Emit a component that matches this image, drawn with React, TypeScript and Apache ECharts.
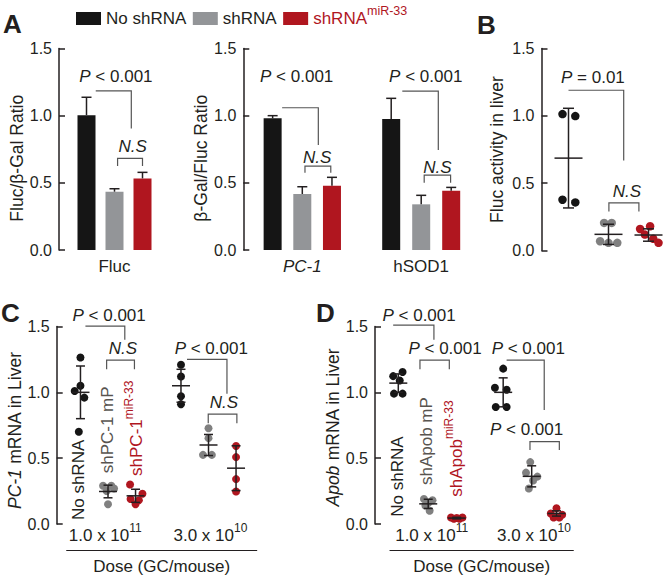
import React, { useEffect, useRef } from 'react';
import * as echarts from 'echarts';

const FONT = "'Liberation Sans', Arial, Helvetica, sans-serif";
const INK = '#231f20';
const BLACK = '#151515';
const GREY_BAR = '#939598';
const RED = '#b0161f';
const GREY_DOT = '#808080';
const GREY_TEXT = '#58544f';
const LINE = '#555555';

// ---------- Panel A (bars, mean + upper error) ----------
const barTargets = ['Fluc', 'PC-1', 'hSOD1'];
const legendNames = ['No shRNA', 'shRNA', 'shRNAmiR-33'];
const barNoShRNA = [1.004, 0.98, 0.975];
const barNoShRNAErr = [0.133, 0.02, 0.154];
const barShRNA = [0.434, 0.417, 0.34];
const barShRNAErr = [0.022, 0.054, 0.067];
const barShRNAmiR = [0.533, 0.478, 0.441];
const barShRNAmiRErr = [0.045, 0.063, 0.025];

// brackets: [xStart, xEnd, yTop, yStartEnd, yEndEnd, textX, textY, text]
const flucBrackets = [
  [0.33, 1.6, 1.185, 1.185, 0.905, 1.05, 1.29, 'P < 0.001'],
  [1.11, 2.0, 0.682, 0.625, 0.625, 1.65, 0.774, 'N.S'],
];
const pc1Brackets = [
  [0.32, 1.54, 1.059, 1.059, 0.781, 0.81, 1.29, 'P < 0.001'],
  [1.09, 1.96, 0.625, 0.575, 0.575, 1.5, 0.69, 'N.S'],
];
const sodBrackets = [
  [0.37, 1.57, 1.183, 1.183, 0.744, 1.15, 1.29, 'P < 0.001'],
  [1.1, 1.98, 0.558, 0.5, 0.5, 1.54, 0.615, 'N.S'],
];

// ---------- Panel B (Fluc activity in liver) ----------
const bPositions = [1, 2, 3];
const bNoShRNA = [1.013, 0.998, 0.377, 0.357];
const bNoShRNAJitter = [-0.15, 0.17, -0.15, 0.17];
const bShRNA = [0.205, 0.205, 0.069, 0.057, 0.057];
const bShRNAJitter = [-0.11, 0.08, -0.21, 0.0, 0.22];
const bShRNAmiR = [0.18, 0.16, 0.118, 0.087, 0.057];
const bShRNAmiRJitter = [0.04, -0.21, -0.09, 0.12, 0.25];
const bMean = [0.686, 0.12, 0.115];
const bSD = [0.37, 0.075, 0.046];
const bBrackets = [
  [1.0, 2.38, 1.19, 1.19, 0.668, 1.61, 1.287, 'P = 0.01'],
  [2.01, 2.76, 0.353, 0.29, 0.29, 2.46, 0.439, 'N.S'],
];

// ---------- Panel C (PC-1 mRNA) ----------
const cPositions = [1, 2, 3, 4.65, 5.65, 6.65];
const cValues = [
  [1.265, 1.05, 1.01, 0.96, 0.7],
  [0.29, 0.29, 0.27, 0.25, 0.15],
  [0.3, 0.23, 0.19, 0.18, 0.15],
  [1.21, 1.12, 0.97, 0.91],
  [0.727, 0.652, 0.525, 0.525],
  [0.593, 0.508, 0.341, 0.247],
];
const cJitter = [
  [0, 0, -0.21, 0.14, -0.06],
  [-0.18, 0.12, 0.22, -0.05, 0],
  [-0.2, 0.25, -0.18, 0.12, 0],
  [0, 0, 0, 0],
  [0, 0, -0.2, 0.12],
  [0, 0, 0, 0],
];
const cMean = [1.0, 0.247, 0.214, 1.05, 0.6, 0.424];
const cSD = [0.2, 0.048, 0.05, 0.125, 0.08, 0.17];
const cGroupNames = ['No shRNA', 'shPC-1 mP', 'shPC-1'];
const cGroupSups = ['', '', 'miR-33'];
const cLabelX = [0.94, 1.98, 3.02];
const cLabelY = [0.03, 0.385, 0.365];
const cBrackets = [
  [1.18, 2.61, 1.503, 1.503, 1.4, 2.04, 1.587, 'P < 0.001'],
  [1.95, 2.96, 1.245, 1.175, 1.175, 2.54, 1.334, 'N.S'],
  [4.87, 6.32, 1.25, 1.25, 0.99, 5.75, 1.334, 'P < 0.001'],
  [5.64, 6.68, 0.835, 0.765, 0.765, 6.21, 0.921, 'N.S'],
];

// ---------- Panel D (Apob mRNA) ----------
const dPositions = [1, 2.05, 3.05, 4.68, 5.68, 6.55];
const dValues = [
  [1.154, 1.123, 1.09, 0.99, 0.99],
  [0.19, 0.18, 0.16, 0.14, 0.1],
  [0.05, 0.05, 0.045, 0.04, 0.04],
  [1.18, 1.035, 1.02, 0.888, 0.888],
  [0.47, 0.39, 0.36, 0.33, 0.27],
  [0.12, 0.08, 0.07, 0.05, 0.05],
];
const dJitter = [
  [0.15, -0.18, 0.05, -0.15, 0.15],
  [-0.15, 0.15, 0.0, -0.1, 0.05],
  [-0.2, 0.2, 0, -0.1, 0.1],
  [0, -0.29, 0.12, -0.26, 0.12],
  [-0.05, -0.2, 0.2, 0.05, -0.1],
  [0, -0.2, 0.2, -0.1, 0.1],
];
const dMean = [1.07, 0.153, 0.045, 1.0, 0.362, 0.08];
const dSD = [0.07, 0.035, 0.006, 0.11, 0.08, 0.02];
const dGroupNames = ['No shRNA', 'shApob mP', 'shApob'];
const dGroupSups = ['', '', 'miR-33'];
const dLabelX = [0.965, 2.0, 3.05];
const dLabelY = [0.055, 0.296, 0.207];
const dBrackets = [
  [0.82, 2.25, 1.51, 1.51, 1.4, 1.73, 1.58, 'P < 0.001'],
  [1.76, 2.79, 1.245, 1.175, 1.175, 2.64, 1.33, 'P < 0.001'],
  [4.8, 6.12, 1.245, 1.245, 0.866, 5.56, 1.33, 'P < 0.001'],
  [5.62, 6.65, 0.625, 0.562, 0.562, 5.5, 0.714, 'P < 0.001'],
];

const doseTicks = ['1.0 x 10{sup|11}', '3.0 x 10{sup|10}'];
const cDosePositions = [1.9, 5.72];
const dDosePositions = [2.17, 5.76];
const groupColors = [BLACK, GREY_DOT, RED, BLACK, GREY_DOT, RED];
const labelColors = [INK, GREY_TEXT, RED];

const ital = { fontStyle: 'italic', fontSize: 17, fontFamily: FONT, color: INK };

function bracketSeries(xi: number, yi: number, list: any[]) {
  return {
    type: 'custom',
    xAxisIndex: xi,
    yAxisIndex: yi,
    z: 5,
    silent: true,
    data: list.map((b: any) => [0, b[2]]),
    renderItem: (params: any, api: any) => {
      const b = list[params.dataIndex];
      const x0 = api.coord([0, 0])[0];
      const unit = api.size([1, 0])[0];
      const X = (v: number) => x0 + v * unit;
      const Y = (v: number) => api.coord([0, v])[1];
      const label: string = b[7];
      const text = label === 'N.S' ? '{i|N.S}' : label.replace(/^P/, '{i|P}');
      return {
        type: 'group',
        children: [
          {
            type: 'polyline',
            shape: {
              points: [
                [X(b[0]), Y(b[3])],
                [X(b[0]), Y(b[2])],
                [X(b[1]), Y(b[2])],
                [X(b[1]), Y(b[4])],
              ],
            },
            style: { stroke: LINE, lineWidth: 1.2, fill: 'none' },
          },
          {
            type: 'text',
            x: X(b[5]),
            y: Y(b[6]),
            style: {
              text,
              fontSize: 17,
              fontFamily: FONT,
              fill: INK,
              align: 'center',
              verticalAlign: 'middle',
              rich: { i: { fontStyle: 'italic', fontSize: 17, fontFamily: FONT, fill: INK } },
            },
          },
        ],
      };
    },
  };
}

function meanSdSeries(xi: number, yi: number, pos: number[], mean: number[], sd: number[], hwMean: number, hwCap: number) {
  return {
    type: 'custom',
    xAxisIndex: xi,
    yAxisIndex: yi,
    z: 4,
    silent: true,
    data: pos.map((p, i) => [p, mean[i], mean[i] - sd[i], mean[i] + sd[i]]),
    renderItem: (params: any, api: any) => {
      const pm = api.coord([api.value(0), api.value(1)]);
      const pl = api.coord([api.value(0), api.value(2)]);
      const ph = api.coord([api.value(0), api.value(3)]);
      const st = { stroke: INK, lineWidth: 1.5 };
      return {
        type: 'group',
        children: [
          { type: 'line', shape: { x1: pm[0] - hwMean, y1: pm[1], x2: pm[0] + hwMean, y2: pm[1] }, style: st },
          { type: 'line', shape: { x1: pl[0], y1: pl[1], x2: ph[0], y2: ph[1] }, style: st },
          { type: 'line', shape: { x1: pl[0] - hwCap, y1: pl[1], x2: pl[0] + hwCap, y2: pl[1] }, style: st },
          { type: 'line', shape: { x1: ph[0] - hwCap, y1: ph[1], x2: ph[0] + hwCap, y2: ph[1] }, style: st },
        ],
      };
    },
  };
}

function groupLabelSeries(xi: number, yi: number, xs: number[], ys: number[], names: string[], sups: string[]) {
  return {
    type: 'custom',
    xAxisIndex: xi,
    yAxisIndex: yi,
    z: 4,
    silent: true,
    data: xs.map((x, i) => [x, ys[i]]),
    renderItem: (params: any, api: any) => {
      const i = params.dataIndex;
      const p = api.coord([api.value(0), api.value(1)]);
      const color = labelColors[i];
      const text = sups[i] ? `{m|${names[i]}}{s|${sups[i]}}` : `{m|${names[i]}}`;
      return {
        type: 'text',
        x: p[0],
        y: p[1],
        rotation: Math.PI / 2,
        style: {
          text,
          fill: color,
          fontSize: 17,
          fontFamily: FONT,
          align: 'left',
          verticalAlign: 'middle',
          rich: {
            m: { fontSize: 17, fontFamily: FONT, fill: color },
            s: { fontSize: 12, fontFamily: FONT, fill: color, padding: [0, 0, 15, 0] },
          },
        },
      };
    },
  };
}

function yAxisDef(gridIndex: number, offset: number, name: string, nameGap: number, show = true, namePad: number[] = [0, 0, 0, 0]) {
  return {
    gridIndex,
    type: 'value',
    min: 0,
    max: 1.5,
    interval: 0.5,
    offset,
    show,
    axisLine: { show: true, lineStyle: { color: INK, width: 1.5 } },
    axisTick: { show: true, inside: true, length: 6, lineStyle: { color: INK, width: 1.5 } },
    axisLabel: { fontSize: 16, color: INK, fontFamily: FONT, margin: 7, formatter: (v: number) => v.toFixed(1) },
    splitLine: { show: false },
    name,
    nameLocation: 'middle',
    nameGap,
    nameTextStyle: { fontSize: 17.5, color: INK, fontFamily: FONT, padding: namePad, rich: { i: { ...ital, fontSize: 17.5 } } },
  };
}

function catXAxis(gridIndex: number, name: string, italic: boolean) {
  return {
    gridIndex,
    type: 'category',
    data: legendNames,
    axisLine: { show: false },
    axisTick: { show: false },
    axisLabel: { show: false },
    name,
    nameLocation: 'middle',
    nameGap: 8,
    nameTextStyle: { fontSize: 17, color: INK, fontFamily: FONT, fontStyle: italic ? 'italic' : 'normal' },
  };
}

function hiddenX(gridIndex: number, min: number, max: number) {
  return { gridIndex, type: 'value', min, max, show: false, splitLine: { show: false } };
}

function doseAxis(gridIndex: number, min: number, max: number, ticks: number[]) {
  return {
    gridIndex,
    type: 'value',
    min,
    max,
    position: 'bottom',
    offset: 26,
    axisLine: { show: true, lineStyle: { color: INK, width: 1.2 } },
    axisTick: { show: false },
    splitLine: { show: false },
    axisLabel: {
      inside: true,
      margin: 2,
      customValues: ticks,
      formatter: (v: number) => {
        const k = ticks.findIndex((t) => Math.abs(t - v) < 1e-6);
        return k >= 0 ? doseTicks[k] : '';
      },
      fontSize: 17,
      color: INK,
      fontFamily: FONT,
      rich: { sup: { fontSize: 12, fontFamily: FONT, color: INK, padding: [0, 0, 14, 0] } },
    },
    name: 'Dose (GC/mouse)',
    nameLocation: 'middle',
    nameGap: 8,
    nameTextStyle: { fontSize: 17, color: INK, fontFamily: FONT },
  };
}

function buildOption() {
  const barSets = [barNoShRNA, barShRNA, barShRNAmiR];
  const errSets = [barNoShRNAErr, barShRNAErr, barShRNAmiRErr];
  const barColors = [BLACK, GREY_BAR, RED];
  const aBrackets = [flucBrackets, pc1Brackets, sodBrackets];
  const series: any[] = [];

  for (let g = 0; g < 3; g++) {
    for (let s = 0; s < 3; s++) {
      series.push({
        type: 'bar',
        name: legendNames[s],
        xAxisIndex: g,
        yAxisIndex: g,
        barWidth: 18,
        barGap: '-100%',
        itemStyle: { color: barColors[s] },
        data: [0, 1, 2].map((k) => (k === s ? barSets[s][g] : '-')),
      });
    }
    series.push({
      type: 'custom',
      xAxisIndex: g,
      yAxisIndex: g,
      z: 3,
      silent: true,
      data: [0, 1, 2].map((s) => [s, barSets[s][g], barSets[s][g] + errSets[s][g]]),
      renderItem: (params: any, api: any) => {
        const p0 = api.coord([api.value(0), api.value(1)]);
        const p1 = api.coord([api.value(0), api.value(2)]);
        const st = { stroke: INK, lineWidth: 1.5 };
        return {
          type: 'group',
          children: [
            { type: 'line', shape: { x1: p0[0], y1: p0[1], x2: p1[0], y2: p1[1] }, style: st },
            { type: 'line', shape: { x1: p1[0] - 5, y1: p1[1], x2: p1[0] + 5, y2: p1[1] }, style: st },
          ],
        };
      },
    });
    series.push(bracketSeries(g, g, aBrackets[g]));
  }

  // Panel B
  const bGroups = [bNoShRNA, bShRNA, bShRNAmiR];
  const bJit = [bNoShRNAJitter, bShRNAJitter, bShRNAmiRJitter];
  const bColors = [BLACK, GREY_DOT, RED];
  bGroups.forEach((vals, i) => {
    series.push({
      type: 'scatter',
      name: 'B-' + legendNames[i],
      xAxisIndex: 3,
      yAxisIndex: 3,
      symbolSize: 8.5,
      itemStyle: { color: bColors[i], opacity: 1 },
      data: vals.map((v, k) => [bPositions[i] + bJit[i][k], v]),
    });
  });
  series.push(meanSdSeries(3, 3, bPositions, bMean, bSD, 14, 5.5));
  series.push(bracketSeries(3, 3, bBrackets));

  // Panel C
  cValues.forEach((vals, i) => {
    series.push({
      type: 'scatter',
      name: 'C-' + i,
      xAxisIndex: 4,
      yAxisIndex: 4,
      symbolSize: 8,
      itemStyle: { color: groupColors[i], opacity: 1 },
      data: vals.map((v, k) => [cPositions[i] + cJitter[i][k], v]),
    });
  });
  series.push(meanSdSeries(4, 4, cPositions, cMean, cSD, 9, 4.5));
  series.push(bracketSeries(4, 4, cBrackets));
  series.push(groupLabelSeries(4, 4, cLabelX, cLabelY, cGroupNames, cGroupSups));

  // Panel D
  dValues.forEach((vals, i) => {
    series.push({
      type: 'scatter',
      name: 'D-' + i,
      xAxisIndex: 6,
      yAxisIndex: 5,
      symbolSize: 8,
      itemStyle: { color: groupColors[i], opacity: 1 },
      data: vals.map((v, k) => [dPositions[i] + dJitter[i][k], v]),
    });
  });
  series.push(meanSdSeries(6, 5, dPositions, dMean, dSD, 9, 4.5));
  series.push(bracketSeries(6, 5, dBrackets));
  series.push(groupLabelSeries(6, 5, dLabelX, dLabelY, dGroupNames, dGroupSups));

  const cMin = 0.5, cMax = 7.4;
  const dMin = 0.709, dMax = 7.14;

  return {
    animation: false,
    backgroundColor: '#ffffff',
    textStyle: { fontFamily: FONT },
    legend: {
      left: 76,
      top: 4,
      padding: 0,
      itemWidth: 25,
      itemHeight: 13,
      itemGap: 6.5,
      selectedMode: false,
      icon: 'rect',
      textStyle: {
        fontSize: 17,
        color: INK,
        fontFamily: FONT,
        rich: { sup: { fontSize: 12.5, fontFamily: FONT, color: RED, padding: [0, 0, 16, 0] } },
      },
      formatter: (name: string) => (name === 'shRNAmiR-33' ? 'shRNA{sup|miR-33}' : name),
      data: [
        { name: legendNames[0], icon: 'rect' },
        { name: legendNames[1], icon: 'rect' },
        { name: legendNames[2], icon: 'rect', textStyle: { color: RED } },
      ],
    },
    graphic: [
      { type: 'text', x: 3, y: 24, style: { text: 'A', fontSize: 26, fontWeight: 'bold', fontFamily: FONT, fill: INK, verticalAlign: 'middle' } },
      { type: 'text', x: 477, y: 25, style: { text: 'B', fontSize: 26, fontWeight: 'bold', fontFamily: FONT, fill: INK, verticalAlign: 'middle' } },
      { type: 'text', x: 1, y: 313, style: { text: 'C', fontSize: 26, fontWeight: 'bold', fontFamily: FONT, fill: INK, verticalAlign: 'middle' } },
      { type: 'text', x: 316, y: 313, style: { text: 'D', fontSize: 26, fontWeight: 'bold', fontFamily: FONT, fill: INK, verticalAlign: 'middle' } },
    ],
    grid: [
      { left: 72.5, top: 48.5, width: 84, height: 201.5 },
      { left: 257.8, top: 48.5, width: 89, height: 201.5 },
      { left: 376.2, top: 48.5, width: 90, height: 201.5 },
      { left: 541.5, top: 48.5, width: 120, height: 202 },
      { left: 66.7, top: 326.5, width: 190, height: 197.5 },
      { left: 390, top: 326.5, width: 183.3, height: 197.5 },
    ],
    xAxis: [
      catXAxis(0, barTargets[0], false),
      catXAxis(1, barTargets[1], true),
      catXAxis(2, barTargets[2], false),
      hiddenX(3, 0.325, 3.325),
      hiddenX(4, cMin, cMax),
      doseAxis(4, cMin, cMax, cDosePositions),
      hiddenX(5, dMin, dMax),
      doseAxis(5, dMin, dMax, dDosePositions),
    ],
    yAxis: [
      yAxisDef(0, 13.5, 'Fluc/β-Gal Ratio', 33, true, [0, 18, 0, 0]),
      yAxisDef(1, 14.5, 'β-Gal/Fluc Ratio', 29, true, [0, 18, 0, 0]),
      yAxisDef(2, 0, '', 30, false),
      yAxisDef(3, 0, 'Fluc activity in liver', 36),
      yAxisDef(4, 10, '{i|PC-1} mRNA in Liver', 33, true, [0, 10, 0, 0]),
      yAxisDef(5, 15, '{i|Apob} mRNA in Liver', 31, true, [0, 4, 0, 0]),
    ],
    series,
  };
}

export default function App() {
  const ref = useRef<HTMLDivElement>(null);
  useEffect(() => {
    const chart = echarts.init(ref.current as HTMLDivElement, null, { renderer: 'svg' });
    chart.setOption(buildOption() as any);
    return () => chart.dispose();
  }, []);
  return (
    <div
      ref={ref}
      style={{ position: 'absolute', left: 0, top: 0, width: 663, height: 577, background: '#fff' }}
    />
  );
}
